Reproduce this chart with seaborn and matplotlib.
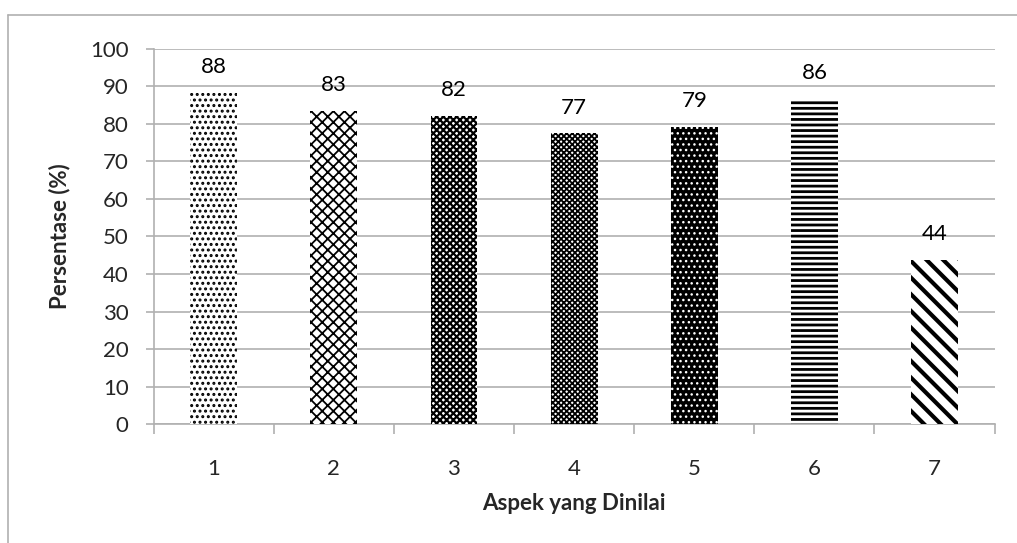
import matplotlib
matplotlib.use("Agg")
import matplotlib.pyplot as plt
import seaborn as sns
import pandas as pd
from matplotlib.lines import Line2D

# data
aspek = ["1", "2", "3", "4", "5", "6", "7"]
persentase = [88.2, 83.4, 82.1, 77.5, 79.2, 86.6, 43.7]
label_nilai = ["88", "83", "82", "77", "79", "86", "44"]

# hatch styles per bar (facecolor, hatch colour, pattern, hatch linewidth)
hatch_styles = [
    ("white", "black", "...", 1.4),
    ("white", "black", "xxx", 1.3),
    ("white", "black", "xxxxx", 1.6),
    ("white", "black", "xxxxxx", 1.3),
    ("black", "white", "...", 1.0),
    ("white", "black", "---", 2.0),
    ("white", "black", "\\\\", 3.0),
]

sns.set_style("white")
plt.rcParams["font.family"] = ["Lato", "DejaVu Sans"]

df = pd.DataFrame({"Aspek": aspek, "Persentase": persentase})

fig = plt.figure(figsize=(10.17, 5.43), dpi=100)
ax = fig.add_axes([0.151, 0.219, 0.827, 0.691])

sns.barplot(data=df, x="Aspek", y="Persentase", ax=ax, width=0.39,
            color="white", edgecolor="none", linewidth=0, saturation=1)

for i, bar in enumerate(ax.patches):
    fc, hc, h, hlw = hatch_styles[i]
    bar.set_facecolor(fc)
    bar.set_hatch(h)
    bar.set_edgecolor(hc)
    bar.set_linewidth(0)
    if hasattr(bar, "set_hatch_linewidth"):
        bar.set_hatch_linewidth(hlw)
    bar.set_zorder(3)

for i, bar in enumerate(ax.patches):
    ax.text(bar.get_x() + bar.get_width() / 2, bar.get_height() + 4.2,
            label_nilai[i], ha="center", va="bottom", fontsize=16, color="black")

ax.set_ylim(0, 100)
ax.set_xlim(-0.5, 6.5)
ax.set_yticks(range(0, 101, 10))
ax.yaxis.grid(True, color="#b0b0b0", linewidth=1.2, zorder=0)
ax.set_axisbelow(True)

for side in ["top", "right"]:
    ax.spines[side].set_visible(False)
for side in ["left", "bottom"]:
    ax.spines[side].set_color("#b0b0b0")
    ax.spines[side].set_linewidth(1.2)

ax.tick_params(axis="y", left=True, length=6, width=1.2, color="#b0b0b0",
               labelsize=16, pad=12)
ax.tick_params(axis="x", bottom=False, labelsize=16, pad=22)
ax.set_xticks([x + 0.5 for x in range(-1, 7)], minor=True)
ax.tick_params(axis="x", which="minor", bottom=True, length=7, width=1.2,
               color="#b0b0b0", direction="out")

ax.set_xlabel("Aspek yang Dinilai", fontsize=16, fontweight="bold", labelpad=10)
ax.set_ylabel("Persentase (%)", fontsize=16, fontweight="bold", labelpad=14)

# chart frame (left and top edge visible in the picture)
fig.add_artist(Line2D([8 / 1017, 8 / 1017], [0.0, 1 - 15 / 543],
                      color="#b0b0b0", linewidth=1.2))
fig.add_artist(Line2D([8 / 1017, 1.0], [1 - 15 / 543, 1 - 15 / 543],
                      color="#b0b0b0", linewidth=1.2))

fig.savefig("out.png", dpi=100)
